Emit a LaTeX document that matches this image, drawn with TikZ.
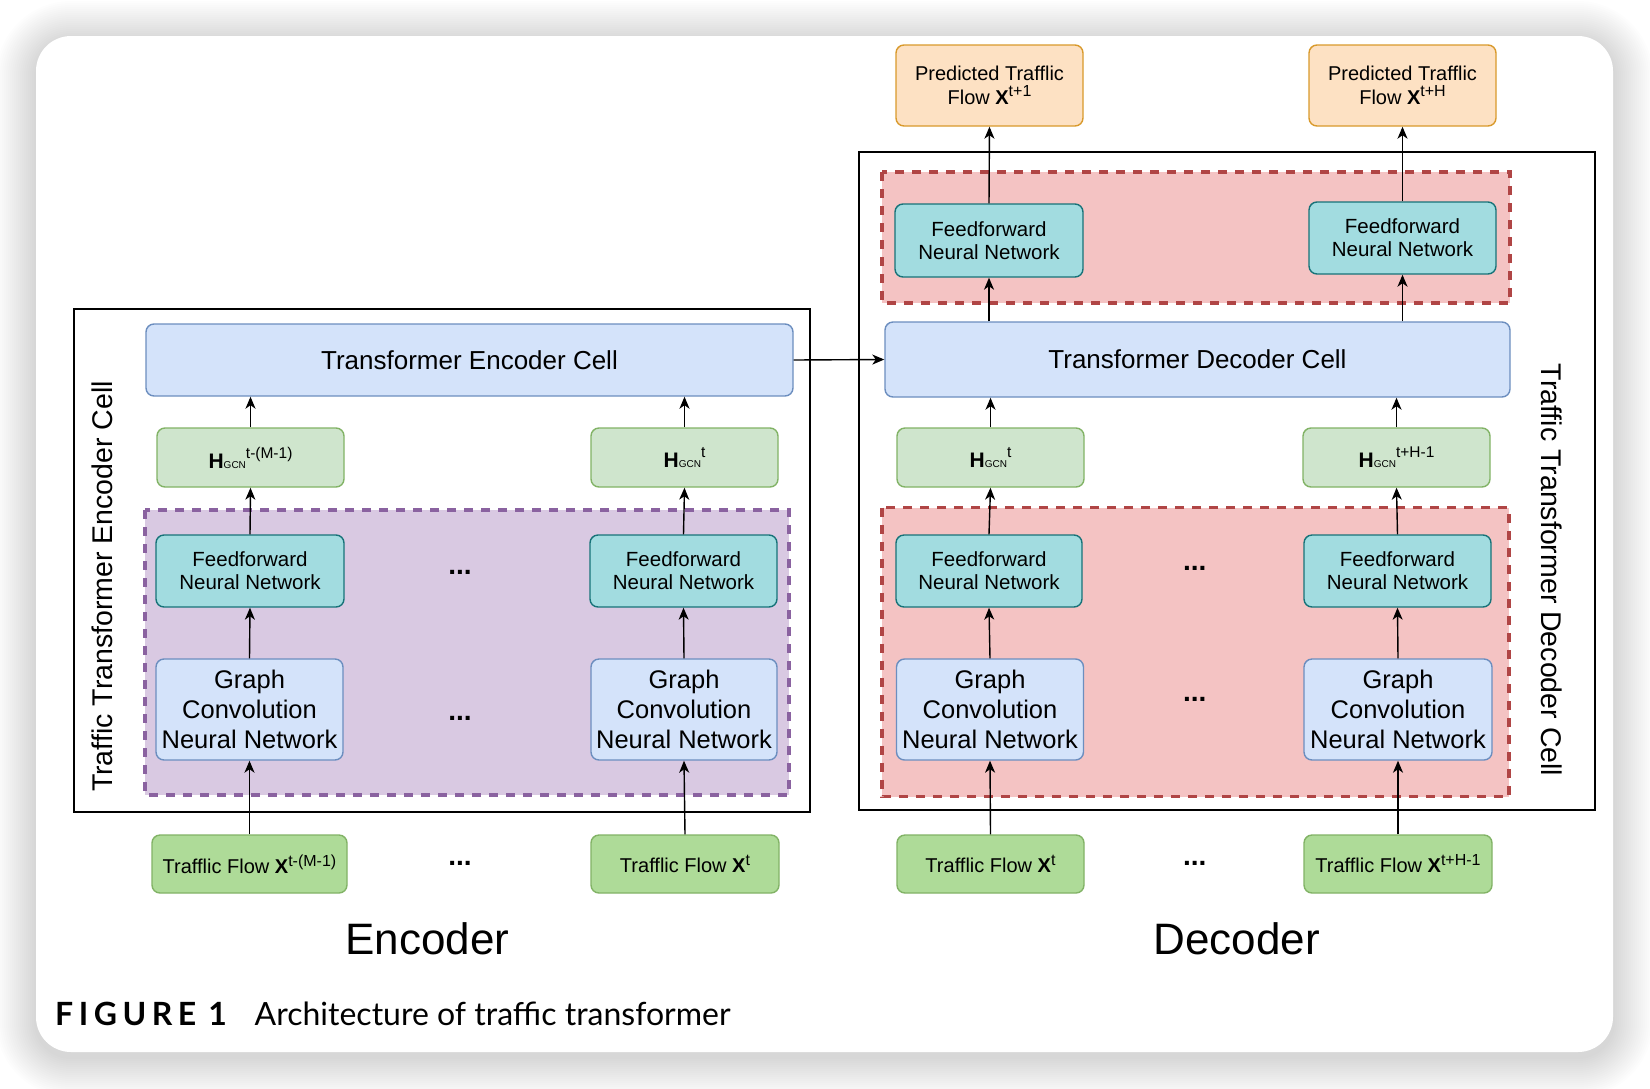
\documentclass[tikz,border=0pt]{standalone}
\usepackage{fontspec}
\setmainfont{Liberation Sans}
\newfontfamily\latofont{Lato}
\usetikzlibrary{arrows.meta}
\definecolor{bluefill}{HTML}{D4E3FA}
\definecolor{bluestroke}{HTML}{6C8EBF}
\definecolor{hfill}{HTML}{CFE5CD}
\definecolor{hstroke}{HTML}{82B366}
\definecolor{tffill}{HTML}{AEDB98}
\definecolor{tfstroke}{HTML}{82B366}
\definecolor{ffnfill}{HTML}{A2DCE0}
\definecolor{ffnstroke}{HTML}{177379}
\definecolor{orfill}{HTML}{FDE1C3}
\definecolor{orstroke}{HTML}{D99A2C}
\definecolor{purfill}{HTML}{D9C9E2}
\definecolor{purstroke}{HTML}{8A62A0}
\definecolor{redfill}{HTML}{F4C3C3}
\definecolor{redstroke}{HTML}{B04545}
\newcommand\hgcn[1]{{\bfseries\fontsize{21}{21}\selectfont H}{\fontsize{10}{10}\selectfont GCN}\raisebox{10pt}{\fontsize{15.5}{15.5}\selectfont #1}}
\newcommand\tflow[1]{Trafflic Flow {\bfseries X}\raisebox{7pt}{\fontsize{16}{16}\selectfont #1}}
\newcommand\pflow[1]{Predicted Trafflic\\Flow {\bfseries X}\raisebox{8pt}{\fontsize{16}{16}\selectfont #1}}
\tikzset{
  box/.style={draw, rounded corners=8pt, line width=1.4pt, inner sep=0pt, align=center},
  bluebox/.style={box, fill=bluefill, draw=bluestroke},
  gcnbox/.style={bluebox, minimum height=101pt, font=\fontsize{25.5}{30}\selectfont},
  ffnbox/.style={box, fill=ffnfill, draw=ffnstroke, minimum height=72pt, font=\fontsize{20.5}{22.7}\selectfont},
  hbox/.style={box, fill=hfill, draw=hstroke, minimum height=59pt, font=\fontsize{20}{22}\selectfont},
  tfbox/.style={box, fill=tffill, draw=tfstroke, minimum height=58pt, font=\fontsize{20}{22}\selectfont},
  predbox/.style={box, fill=orfill, draw=orstroke, minimum width=187pt, minimum height=81pt, font=\fontsize{20}{24}\selectfont},
  arr/.style={line width=1.4pt, -{Stealth[length=12pt, width=10pt, inset=3.5pt]}},
  dots/.style={inner sep=0pt, font=\bfseries\fontsize{28}{28}\selectfont},
  purpdash/.style={fill=purfill, draw=purstroke, line width=3.2pt, dash pattern=on 9pt off 8pt},
  reddash/.style={fill=redfill, draw=redstroke, line width=3.2pt, dash pattern=on 9pt off 8pt},
  cellframe/.style={draw=black, line width=1.3pt},
  sidelabel/.style={inner sep=0pt, font=\fontsize{28.5}{30}\selectfont},
  biglabel/.style={inner sep=0pt, font=\fontsize{44}{44}\selectfont},
}
\begin{document}
\begin{tikzpicture}[x=1pt,y=-1pt]
\useasboundingbox (0,0) rectangle (1650,1088);
\fill[white] (0,0) rectangle (1650,1088);
% card shadow
\foreach \r in {2,4,...,40} {
  \pgfmathsetmacro\rc{35+\r}
  \fill[black, opacity=0.007, rounded corners=\rc pt] (36-\r, 36-\r+5) rectangle (1613+\r, 1052+\r+5);
}
% card
\fill[white, rounded corners=35pt] (36,36) rectangle (1613,1052);

% cell frames
\draw[cellframe] (74,309) rectangle (810,812);
\draw[cellframe] (859,152) rectangle (1595,810);

% dashed regions
\draw[purpdash] (145,510) rectangle (789,795);
\draw[reddash] (882,507.5) rectangle (1509,796.5);
\draw[reddash] (882,172) rectangle (1510,303);

% ---------------- Encoder ----------------
\node[bluebox, minimum width=647pt, minimum height=72pt, font=\fontsize{26}{30}\selectfont] (tec) at (469.5,360) {Transformer Encoder Cell};

\node[hbox, minimum width=187pt] (h1) at (250.5,457.5) {\hgcn{t-(M-1)}};
\node[hbox, minimum width=187pt] (h2) at (684.5,457.5) {\hgcn{t}};

\node[ffnbox, minimum width=188pt] (f1) at (250,571) {Feedforward\\Neural Network};
\node[ffnbox, minimum width=187pt] (f2) at (683.5,571) {Feedforward\\Neural Network};

\node[gcnbox, minimum width=187pt] (g1) at (249.5,709.5) {Graph\\Convolution\\Neural Network};
\node[gcnbox, minimum width=186pt] (g2) at (684,709.5) {Graph\\Convolution\\Neural Network};

\node[tfbox, minimum width=195pt] (t1) at (249.5,864) {\tflow{t-(M-1)}};
\node[tfbox, minimum width=188pt] (t2) at (685,864) {\tflow{t}};

\node[dots] (ed1) at (460,572.7) {...};
\node[dots] (ed2) at (460,718) {...};
\node[dots] (ed3) at (460,863.3) {...};

\node[sidelabel, rotate=90] (enclab) at (102,586.5) {Traffic Transformer Encoder Cell};
\node[biglabel] (encname) at (427.5,939) {Encoder};

% ---------------- Decoder ----------------
\node[bluebox, minimum width=625pt, minimum height=75pt, font=\fontsize{26}{30}\selectfont] (tdc) at (1197.5,359.5) {Transformer Decoder Cell};

\node[hbox, minimum width=187pt] (h3) at (990.5,457.5) {\hgcn{t}};
\node[hbox, minimum width=187pt] (h4) at (1396.5,457.5) {\hgcn{t+H-1}};

\node[ffnbox, minimum width=186pt] (f3) at (989,571) {Feedforward\\Neural Network};
\node[ffnbox, minimum width=187pt] (f4) at (1397.5,571) {Feedforward\\Neural Network};

\node[gcnbox, minimum width=187pt] (g3) at (990,709.5) {Graph\\Convolution\\Neural Network};
\node[gcnbox, minimum width=188pt] (g4) at (1398,709.5) {Graph\\Convolution\\Neural Network};

\node[tfbox, minimum width=187pt] (t3) at (990.5,864) {\tflow{t}};
\node[tfbox, minimum width=188pt] (t4) at (1398,864) {\tflow{t+H-1}};

\node[ffnbox, minimum width=188pt, minimum height=73pt] (ft1) at (989,240.5) {Feedforward\\Neural Network};
\node[ffnbox, minimum width=187pt] (ft2) at (1402.5,238) {Feedforward\\Neural Network};

\node[predbox] (p1) at (989.5,85.5) {\pflow{t+1}};
\node[predbox] (p2) at (1402.5,85.5) {\pflow{t+H}};

\node[dots] (dd1) at (1194.7,568.3) {...};
\node[dots] (dd2) at (1194.7,699.3) {...};
\node[dots] (dd3) at (1194.7,863.3) {...};

\node[sidelabel, rotate=-90] (declab) at (1551.5,570) {Traffic Transformer Decoder Cell};
\node[biglabel] (decname) at (1236.6,939) {Decoder};

% ---------------- Arrows ----------------
\draw[arr] (t1.north) -- (g1.south);
\draw[arr] (g1.north) -- (f1.south);
\draw[arr] (f1.north) -- (h1.south);
\draw[arr] (h1.north) -- (h1.north |- tec.south);
\draw[arr] (t2.north) -- (g2.south);
\draw[arr] (g2.north) -- (f2.south);
\draw[arr] (f2.north) -- (h2.south);
\draw[arr] (h2.north) -- (h2.north |- tec.south);

\draw[arr] (tec.east) -- (tdc.west);

\draw[arr] (t3.north) -- (g3.south);
\draw[arr] (g3.north) -- (f3.south);
\draw[arr] (f3.north) -- (h3.south);
\draw[arr] (h3.north) -- (h3.north |- tdc.south);
\draw[arr] (t4.north) -- (g4.south);
\draw[arr] (g4.north) -- (f4.south);
\draw[arr] (f4.north) -- (h4.south);
\draw[arr] (h4.north) -- (h4.north |- tdc.south);

\draw[arr] (ft1.south |- tdc.north) -- (ft1.south);
\draw[arr] (ft1.north) -- (p1.south);
\draw[arr] (ft2.south |- tdc.north) -- (ft2.south);
\draw[arr] (ft2.north) -- (p2.south);

% ---------------- Caption ----------------
\node[anchor=base west, inner sep=0pt, font=\latofont\bfseries\fontsize{32}{32}\selectfont] (figlab) at (55,1025) {F\kern5.5pt I\kern5.5pt G\kern5.5pt U\kern5.5pt R\kern5.5pt E\kern12pt 1};
\node[anchor=base west, inner sep=0pt, font=\latofont\fontsize{32}{32}\selectfont] (figcap) at (254.5,1025) {Architecture of traffic transformer};
\end{tikzpicture}
\end{document}
